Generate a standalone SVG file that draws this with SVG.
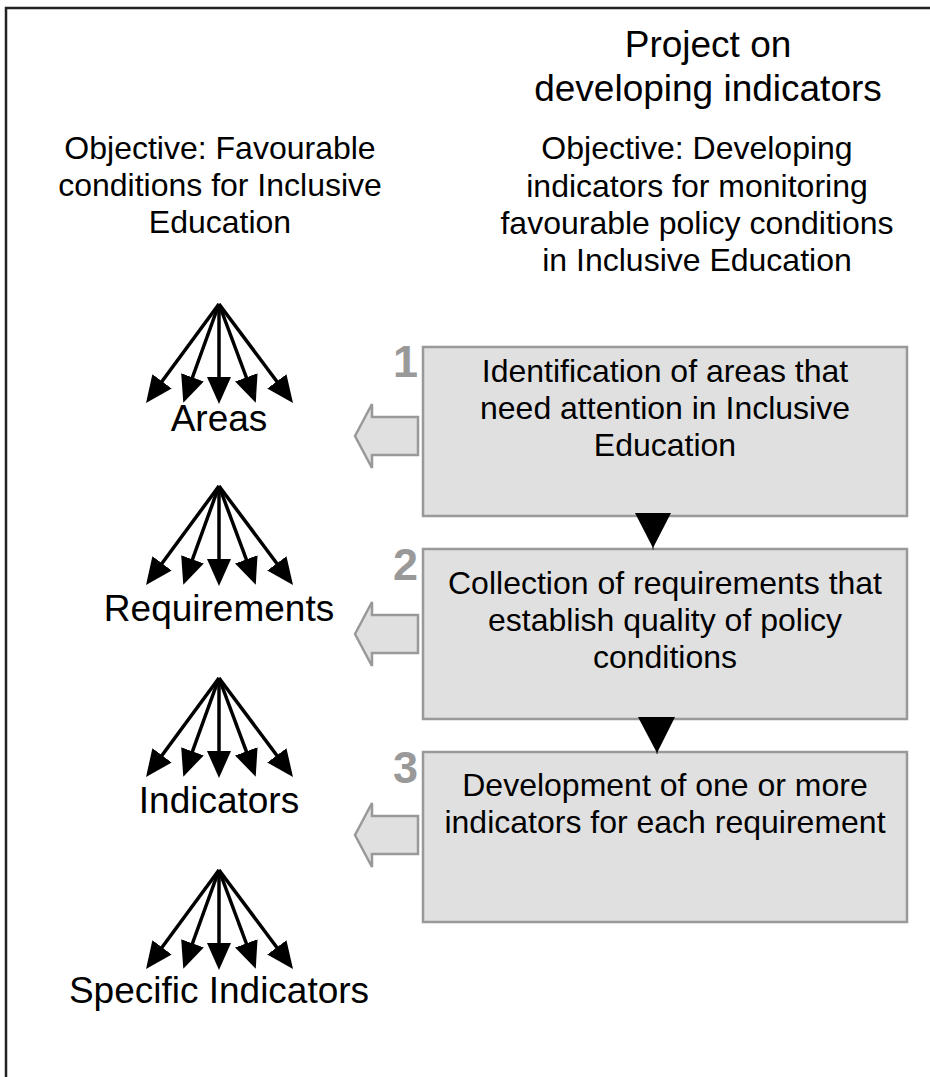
<svg xmlns="http://www.w3.org/2000/svg" width="930" height="1077" viewBox="0 0 930 1077">
<style>
text{font-family:"Liberation Sans",Arial,sans-serif;fill:#000;text-anchor:middle}
.big{font-size:37px}
.mid{font-size:32px}
.num{font-size:45px;font-weight:bold;fill:#999;text-anchor:end}
.box{fill:#e0e0e0;stroke:#999;stroke-width:2.5}
.hollow{fill:#e0e0e0;stroke:#999;stroke-width:2.5;stroke-linejoin:miter}
.fan{stroke:#000;stroke-width:3.5;fill:none;marker-end:url(#ah)}
.tri{fill:#000}
</style>
<defs>
<marker id="ah" markerUnits="userSpaceOnUse" markerWidth="27" markerHeight="24" refX="22" refY="12" orient="auto" viewBox="0 0 27 24">
<path d="M0,0 L27,12 L0,24 z" fill="#000"/>
</marker>
</defs>
<rect x="6" y="8" width="940" height="1090" fill="#fff" stroke="#222" stroke-width="2.5"/>

<g id="title">
<text class="big" x="708" y="57">Project on</text>
<text class="big" x="708" y="101">developing indicators</text>
</g>
<g id="objective-left">
<text class="mid" x="220" y="159">Objective: Favourable</text>
<text class="mid" x="220" y="196">conditions for Inclusive</text>
<text class="mid" x="220" y="233">Education</text>
</g>
<g id="objective-right">
<text class="mid" x="697" y="159">Objective: Developing</text>
<text class="mid" x="697" y="197">indicators for monitoring</text>
<text class="mid" x="697" y="234">favourable policy conditions</text>
<text class="mid" x="697" y="271">in Inclusive Education</text>
</g>

<g id="step1">
<rect class="box" x="423" y="347" width="484" height="169"/>
<text class="num" x="418" y="377">1</text>
<text class="mid" x="665" y="382">Identification of areas that</text>
<text class="mid" x="665" y="419">need attention in Inclusive</text>
<text class="mid" x="665" y="456">Education</text>
</g>
<g id="step2">
<rect class="box" x="423" y="549" width="484" height="170"/>
<text class="num" x="418" y="580">2</text>
<text class="mid" x="665" y="594">Collection of requirements that</text>
<text class="mid" x="665" y="631">establish quality of policy</text>
<text class="mid" x="665" y="668">conditions</text>
</g>
<g id="step3">
<rect class="box" x="423" y="752" width="484" height="170"/>
<text class="num" x="418" y="783">3</text>
<text class="mid" x="665" y="796">Development of one or more</text>
<text class="mid" x="665" y="833">indicators for each requirement</text>
</g>

<g id="fan-areas">
<text class="big" x="219" y="431">Areas</text>
</g>
<g id="fan-requirements">
<text class="big" x="219" y="621">Requirements</text>
</g>
<g id="fan-indicators">
<text class="big" x="219" y="813">Indicators</text>
</g>
<g id="fan-specific">
<text class="big" x="219" y="1003">Specific Indicators</text>
</g>

<g id="connectors">
<g transform="translate(0,0)">
<line class="fan" x1="219" y1="304" x2="149" y2="399"/>
<line class="fan" x1="219" y1="304" x2="185" y2="398"/>
<line class="fan" x1="219" y1="304" x2="219" y2="399"/>
<line class="fan" x1="219" y1="304" x2="254" y2="398"/>
<line class="fan" x1="219" y1="304" x2="290" y2="399"/>
</g>
<g transform="translate(0,182)">
<line class="fan" x1="219" y1="304" x2="149" y2="399"/>
<line class="fan" x1="219" y1="304" x2="185" y2="398"/>
<line class="fan" x1="219" y1="304" x2="219" y2="399"/>
<line class="fan" x1="219" y1="304" x2="254" y2="398"/>
<line class="fan" x1="219" y1="304" x2="290" y2="399"/>
</g>
<g transform="translate(0,374)">
<line class="fan" x1="219" y1="304" x2="149" y2="399"/>
<line class="fan" x1="219" y1="304" x2="185" y2="398"/>
<line class="fan" x1="219" y1="304" x2="219" y2="399"/>
<line class="fan" x1="219" y1="304" x2="254" y2="398"/>
<line class="fan" x1="219" y1="304" x2="290" y2="399"/>
</g>
<g transform="translate(0,566)">
<line class="fan" x1="219" y1="304" x2="149" y2="399"/>
<line class="fan" x1="219" y1="304" x2="185" y2="398"/>
<line class="fan" x1="219" y1="304" x2="219" y2="399"/>
<line class="fan" x1="219" y1="304" x2="254" y2="398"/>
<line class="fan" x1="219" y1="304" x2="290" y2="399"/>
</g>
<polygon class="hollow" points="355,436 372,404 372,417 418,417 418,455 372,455 372,468"/>
<polygon class="hollow" points="355,634 372,602 372,615 418,615 418,653 372,653 372,666"/>
<polygon class="hollow" points="355,835 372,803 372,816 418,816 418,854 372,854 372,867"/>
<line x1="653" y1="516" x2="653" y2="550" stroke="#555" stroke-width="1.5"/>
<polygon class="tri" points="635,513 671,513 653,548"/>
<line x1="657" y1="719" x2="657" y2="754" stroke="#555" stroke-width="1.5"/>
<polygon class="tri" points="638,717 675,717 657,753"/>
</g>
</svg>
